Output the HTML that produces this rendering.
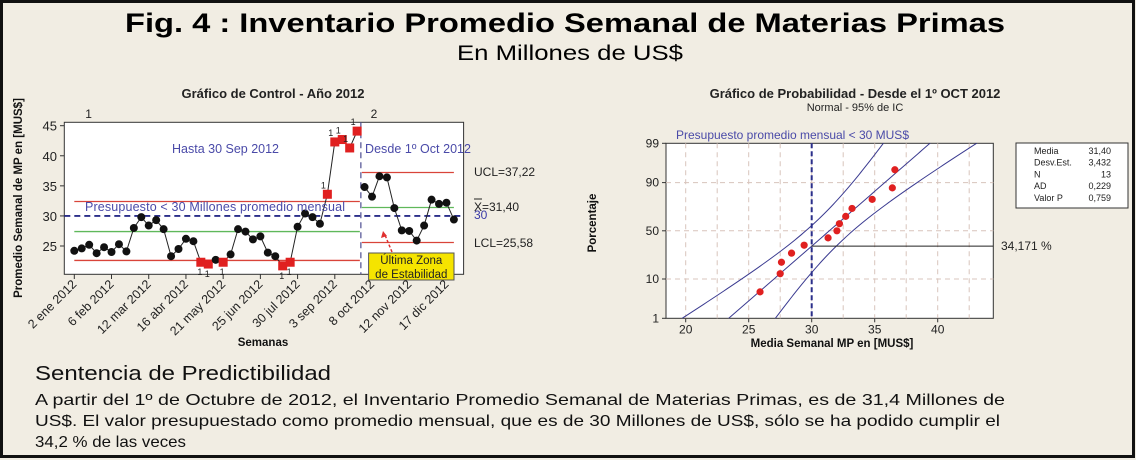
<!DOCTYPE html>
<html><head><meta charset="utf-8"><style>
html,body{margin:0;padding:0;background:#f1ede3;}
svg{display:block;font-family:"Liberation Sans","DejaVu Sans",sans-serif;}
</style></head><body>
<svg id="root" width="1136" height="460" viewBox="0 0 1136 460" xmlns="http://www.w3.org/2000/svg">
<rect x="1.5" y="1.5" width="1132" height="455" fill="#f1ede3" stroke="#111" stroke-width="3"/>
<text x="125" y="32" font-size="27" font-weight="bold" textLength="880" lengthAdjust="spacingAndGlyphs" fill="#000">Fig. 4 : Inventario Promedio Semanal de Materias Primas</text>
<text x="457" y="60" font-size="21" textLength="226" lengthAdjust="spacingAndGlyphs" fill="#000">En Millones de US$</text>

<g id="ctrl">
<text x="273" y="98" font-size="13" font-weight="bold" text-anchor="middle" fill="#222">Gráfico de Control - Año 2012</text>
<rect x="64.3" y="122.3" width="399.3" height="152" fill="#fff" stroke="#333"/>
</g>

<g id="prob">
<text x="855" y="98" font-size="13" font-weight="bold" text-anchor="middle" fill="#222">Gráfico de Probabilidad - Desde el 1º OCT 2012</text>
<text x="855" y="111" font-size="11" text-anchor="middle" fill="#222">Normal - 95% de IC</text>
<rect x="666" y="143.3" width="327.3" height="175" fill="#fff" stroke="#333"/>
</g>

<g>
<text x="35" y="380" font-size="20" fill="#111" textLength="296" lengthAdjust="spacingAndGlyphs">Sentencia de Predictibilidad</text>
<text x="35" y="405" font-size="16" fill="#111" textLength="970" lengthAdjust="spacingAndGlyphs">A partir del 1º de Octubre de 2012, el Inventario Promedio Semanal de Materias Primas, es de 31,4 Millones de</text>
<text x="35" y="426" font-size="16" fill="#111" textLength="965" lengthAdjust="spacingAndGlyphs">US$.  El valor presupuestado como promedio mensual, que es de 30 Millones de US$, sólo se ha podido cumplir el</text>
<text x="35" y="447" font-size="16" fill="#111" textLength="151" lengthAdjust="spacingAndGlyphs">34,2 % de las veces</text>
</g>
</svg>
<script>
// ---------- control chart data ----------
const weeklyValues = [24.2,24.6,25.2,23.8,24.8,24.0,25.3,24.1,28.0,29.8,28.4,29.3,27.8,23.3,24.5,26.2,25.8,22.3,22.0,22.7,22.3,23.6,27.8,27.4,26.1,26.6,23.9,23.3,21.7,22.3,28.2,30.4,29.8,28.7,33.6,42.3,42.7,41.3,44.1,34.8,33.2,36.6,36.4,31.3,27.6,27.5,25.9,28.4,32.7,32.0,32.2,29.4];
const outOfControl = [17,18,20,28,29,34,35,36,37,38];
const dateLabels = ["2 ene 2012","6 feb 2012","12 mar 2012","16 abr 2012","21 may 2012","25 jun 2012","30 jul 2012","3 sep 2012","8 oct 2012","12 nov 2012","17 dic 2012"];
const yTicks = [25,30,35,40,45];
const phaseSplit = 39;
const phase1Limits = [32.4,27.4,22.6];
const phase2Limits = [37.22,31.40,25.58];
const budget = 30;
// ---------- probability chart data ----------
const probXTicks = [20,25,30,35,40];
const probYTicks = [1,10,50,90,99];
const probGrid = [90,50,10];
const statsLabels = ["Media","Desv.Est.","N","AD","Valor P"];
const statsValues = ["31,40","3,432","13","0,229","0,759"];
const fitMean = 31.40, fitSd = 3.432;
const budgetPct = 34.171;

const NS="http://www.w3.org/2000/svg";
function mk(parent,tag,attrs,text){const e=document.createElementNS(NS,tag);for(const k in attrs)e.setAttribute(k,attrs[k]);if(text!==undefined)e.textContent=text;parent.appendChild(e);return e;}

// control axes
const cx = i => 74.3 + i*7.443;
const cy = v => 246 - (v-25)*6.015;
const C=document.getElementById('ctrl');
yTicks.forEach(t=>{
  const l=mk(C,'line',{x1:60,x2:64.3,y1:cy(t),y2:cy(t),stroke:'#333'});
  
  
  const tx=mk(C,'text',{x:57,y:cy(t)+5,'font-size':13,'text-anchor':'end',fill:'#222'},String(t));
  
  
});
dateLabels.forEach((d,k)=>{
  const x=cx(k*5);
  const l=mk(C,'line',{x1:x,x2:x,y1:274.3,y2:279,stroke:'#333'});
  
  
  const t=mk(C,'text',{x:x+3,y:285,'font-size':12.5,'text-anchor':'end',fill:'#222',transform:`rotate(-45 ${x+3} 285)`},d);
  
  
});
function hline(v,x1,x2,col,name){const l=mk(C,'line',{x1:x1,x2:x2,y1:cy(v),y2:cy(v),stroke:col,'stroke-width':1.3});
  
  }
const p1end=cx(phaseSplit-0.5)-1, p2start=cx(phaseSplit-0.5)+1, p2end=cx(weeklyValues.length-1);
hline(phase1Limits[0],cx(0),p1end,'#d9443a','ucl-phase1');
hline(phase1Limits[1],cx(0),p1end,'#5fb85a','center-phase1');
hline(phase1Limits[2],cx(0),p1end,'#d9443a','lcl-phase1');
hline(phase2Limits[0],p2start,p2end,'#d9443a','ucl-phase2');
hline(phase2Limits[1],p2start,p2end,'#5fb85a','center-phase2');
hline(phase2Limits[2],p2start,p2end,'#d9443a','lcl-phase2');
const bl=mk(C,'line',{x1:64.3,x2:463.6,y1:cy(budget),y2:cy(budget),stroke:'#2b2f8a','stroke-width':1.8,'stroke-dasharray':'6,4'});


const vs=mk(C,'line',{x1:cx(phaseSplit-0.5),x2:cx(phaseSplit-0.5),y1:122.3,y2:274.3,stroke:'#5a5a9a','stroke-width':1.3,'stroke-dasharray':'6,4'});


function seg(a,b){const pts=weeklyValues.slice(a,b).map((v,i)=>cx(a+i)+','+cy(v)).join(' ');
  const p=mk(C,'polyline',{points:pts,fill:'none',stroke:'#222','stroke-width':1});
  
  }
seg(0,phaseSplit);seg(phaseSplit,weeklyValues.length);
weeklyValues.forEach((v,i)=>{
  if(outOfControl.includes(i)){
    const r=mk(C,'rect',{x:cx(i)-4.5,y:cy(v)-4.5,width:9,height:9,fill:'#e02020'});
    
    
    const below=v<30;
    const t=mk(C,'text',{x:cx(i)-(below?1:4),y:below?cy(v)+13:cy(v)-6,'font-size':9,fill:'#222','text-anchor':'middle'},'1');
    
    
  } else {
    const c=mk(C,'circle',{cx:cx(i),cy:cy(v),r:4,fill:'#111'});
    
    
  }
});
function txt(par,x,y,s,size,col,name,extra){const t=mk(par,'text',Object.assign({x:x,y:y,'font-size':size,fill:col},extra||{}),s);
  
  return t;}
txt(C,88.6,118,'1',12,'#222','phase-1-label',{'text-anchor':'middle'});
txt(C,374,118,'2',12,'#222','phase-2-label',{'text-anchor':'middle'});
txt(C,172,153,'Hasta 30 Sep 2012',12.5,'#4a4aa8','phase-1-annotation',{textLength:107});
txt(C,365,153,'Desde 1º Oct 2012',12.5,'#4a4aa8','phase-2-annotation',{textLength:106});
txt(C,85,211,'Presupuesto < 30 Millones promedio mensual',12.5,'#4a4aa8','budget-annotation',{textLength:260});
txt(C,474,176,'UCL=37,22',12,'#222','ucl-label');
txt(C,474,211,'X=31,40',12,'#222','mean-label');
mk(C,'line',{x1:474,x2:482,y1:199,y2:199,stroke:'#222'});
txt(C,474,219,'30',12,'#3a3aa8','budget-value-label');
txt(C,474,247,'LCL=25,58',12,'#222','lcl-label');
const yb=mk(C,'rect',{x:368.6,y:253,width:85.4,height:27,fill:'#f5e400',stroke:'#555'});


txt(C,411.3,264,'Última Zona',11.5,'#222','stability-zone-line-1',{'text-anchor':'middle'});
txt(C,411.3,278,'de Estabilidad',11.5,'#222','stability-zone-line-2',{'text-anchor':'middle'});
const ar=mk(C,'line',{x1:392,y1:252,x2:385,y2:235,stroke:'#e03030','stroke-width':1.5,'stroke-dasharray':'3,2'});


mk(C,'path',{d:'M383,231 L381,238 L387,236 Z',fill:'#e03030'});
txt(C,22,198,'Promedio Semanal de MP en [MUS$]',11.5,'#111','y-axis-title',{'font-weight':'bold','text-anchor':'middle',transform:'rotate(-90 22 198)'});
txt(C,263,346,'Semanas',11.5,'#111','x-axis-title',{'font-weight':'bold','text-anchor':'middle'});

// probability chart
const P=document.getElementById('prob');
const px = v => 811.7 + (v-30)*12.6;
const PT=143.3, PB=318.3, PL=666, PR=993.3;
function invNorm(p){ // Acklam approximation
 const a=[-39.69683028665376,220.9460984245205,-275.9285104469687,138.3577518672690,-30.66479806614716,2.506628277459239],
 b=[-54.47609879822406,161.5858368580409,-155.6989798598866,66.80131188771972,-13.28068155288572],
 c=[-0.007784894002430293,-0.3223964580411365,-2.400758277161838,-2.549732539343734,4.374664141464968,2.938163982698783],
 d=[0.007784695709041462,0.3224671290700398,2.445134137142996,3.754408661907416];
 let q,r;
 if(p<0.02425){q=Math.sqrt(-2*Math.log(p));return(((((c[0]*q+c[1])*q+c[2])*q+c[3])*q+c[4])*q+c[5])/((((d[0]*q+d[1])*q+d[2])*q+d[3])*q+1);}
 if(p>1-0.02425){q=Math.sqrt(-2*Math.log(1-p));return-(((((c[0]*q+c[1])*q+c[2])*q+c[3])*q+c[4])*q+c[5])/((((d[0]*q+d[1])*q+d[2])*q+d[3])*q+1);}
 q=p-0.5;r=q*q;return(((((a[0]*r+a[1])*r+a[2])*r+a[3])*r+a[4])*r+a[5])*q/(((((b[0]*r+b[1])*r+b[2])*r+b[3])*r+b[4])*r+1);}
const zMax=invNorm(0.99);
const pyz = z => (PT+PB)/2 - z*(PB-PT)/(2*zMax);
const py = pct => pyz(invNorm(pct/100));
for(let g=20;g<=42.5;g+=2.5){const l=mk(P,'line',{x1:px(g),x2:px(g),y1:PT,y2:PB,stroke:'#d8c4bc','stroke-dasharray':'5,4'});
  
  }
probGrid.forEach(g=>{const l=mk(P,'line',{x1:PL,x2:PR,y1:py(g),y2:py(g),stroke:'#d8c4bc','stroke-dasharray':'5,4'});
  
  });
probYTicks.forEach(t=>{
  const l=mk(P,'line',{x1:PL-4,x2:PL,y1:py(t),y2:py(t),stroke:'#333'});
  
  
  txt(P,PL-7,py(t)+4,String(t),12,'#222','prob-y-tick-label',{'text-anchor':'end'});
});
probXTicks.forEach(t=>{
  const l=mk(P,'line',{x1:px(t),x2:px(t),y1:PB,y2:PB+4,stroke:'#333'});
  
  
  txt(P,px(t),PB+15,String(t),12,'#222','prob-x-tick-label',{'text-anchor':'middle'});
});
// fit line + confidence bands
const n=statsValues.length?13:13;
function band(sgn){const pts=[];for(let z=-2.6;z<=2.6;z+=0.05){const hw=1.96*fitSd*Math.sqrt(1/n+z*z/(2*(n-1)));pts.push([px(fitMean+z*fitSd+sgn*hw),pyz(z)]);}return pts;}
const clip=mk(P,'clipPath',{id:'pclip'});mk(clip,'rect',{x:PL,y:PT,width:PR-PL,height:PB-PT});
[[0,'fit-line'],[-1,'ci-lower-band'],[1,'ci-upper-band']].forEach(([s,nm])=>{
  const pl=mk(P,'polyline',{points:band(s).map(p=>p.join(',')).join(' '),fill:'none',stroke:'#3a3a90','stroke-width':1,'clip-path':'url(#pclip)'});
  
  
});
const bv=mk(P,'line',{x1:px(budget),x2:px(budget),y1:PT,y2:PB,stroke:'#2b2f8a','stroke-width':2,'stroke-dasharray':'5,3'});


const bh=mk(P,'line',{x1:px(budget),x2:PR,y1:py(budgetPct),y2:py(budgetPct),stroke:'#222','stroke-width':1});


txt(P,1001,py(budgetPct)+4,'34,171 %',12,'#222','budget-percent-label');
const sorted=weeklyValues.slice(phaseSplit).sort((a,b)=>a-b);
sorted.forEach((v,i)=>{const pct=100*(i+1-0.3)/(sorted.length+0.4);
  const c=mk(P,'circle',{cx:px(v),cy:py(pct),r:3.6,fill:'#e02020'});
  
  });
txt(P,676,139,'Presupuesto promedio mensual < 30 MUS$',12,'#4a4aa8','prob-budget-annotation',{textLength:233});
txt(P,596,223,'Porcentaje',11.5,'#111','prob-y-axis-title',{'font-weight':'bold','text-anchor':'middle',transform:'rotate(-90 596 223)'});
txt(P,832,347,'Media Semanal MP en [MUS$]',11.5,'#111','prob-x-axis-title',{'font-weight':'bold','text-anchor':'middle'});
const sb=mk(P,'rect',{x:1016,y:143,width:112,height:65,fill:'#fff',stroke:'#333'});


statsLabels.forEach((s,i)=>{const y=154+i*11.7;
  txt(P,1034,y,s,9,'#222','stats-label');
  txt(P,1111,y,statsValues[i],9,'#222','stats-value',{'text-anchor':'end'});});
</script>
</body></html>
